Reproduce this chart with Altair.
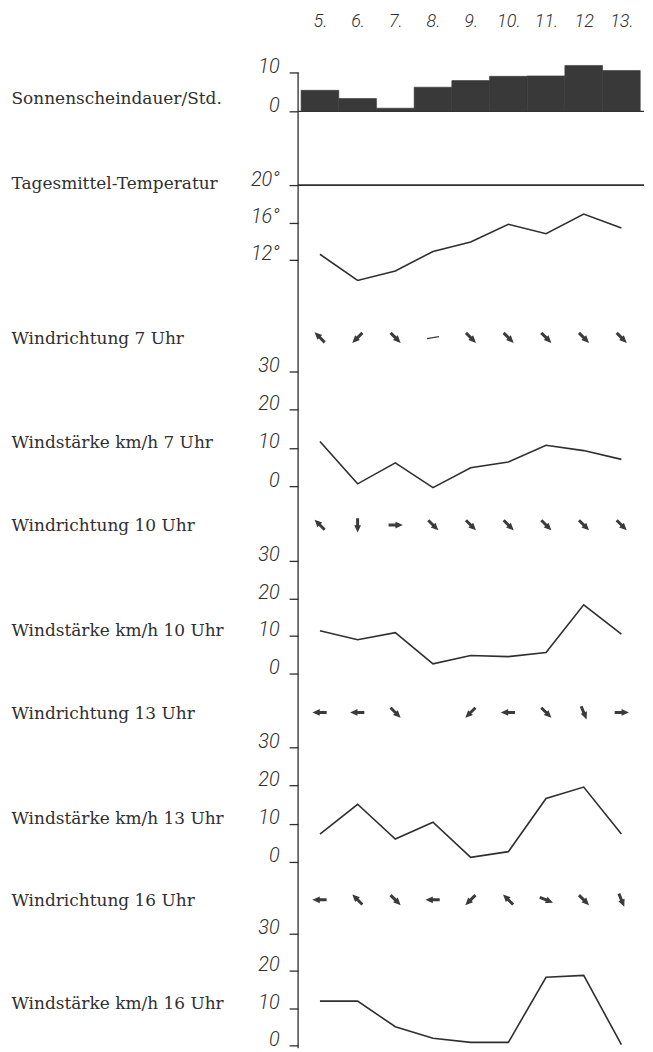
import json
import altair as alt
import pandas as pd

# ---------------- data ----------------
days = [5, 6, 7, 8, 9, 10, 11, 12, 13]
day_labels = ["5.", "6.", "7.", "8.", "9.", "10.", "11.", "12", "13."]

sunshine = [5.4, 3.3, 0.8, 6.2, 7.9, 9.0, 9.1, 11.8, 10.5]
temperature = [12.6, 9.8, 10.8, 12.9, 13.9, 15.8, 14.8, 16.9, 15.4]
temp_reference = [20]

wind_speed_7 = [11.7, 0.6, 6.1, -0.4, 4.8, 6.3, 10.7, 9.3, 7.0]
wind_speed_10 = [11.4, 9.0, 10.9, 2.6, 4.8, 4.5, 5.6, 18.3, 10.5]
wind_speed_13 = [7.3, 15.1, 6.0, 10.4, 1.2, 2.7, 16.6, 19.6, 7.3]
wind_speed_16 = [11.9, 11.9, 5.0, 1.9, 0.8, 0.8, 18.3, 18.8, 0.2]

wind_dir_7 = ["NW", "SW", "SE", "calm", "SE", "SE", "SE", "SE", "SE"]
wind_dir_10 = ["NW", "S", "E", "SE", "SE", "SE", "SE", "SE", "SE"]
wind_dir_13 = ["W", "W", "SE", None, "SW", "W", "SE", "SSE", "E"]
wind_dir_16 = ["W", "NW", "SE", "W", "SW", "NW", "ESE", "SE", "SSE"]

title_sun = "Sonnenscheindauer/Std."
title_temp = "Tagesmittel-Temperatur"
dir_rows = ["Windrichtung 7 Uhr", "Windrichtung 10 Uhr",
            "Windrichtung 13 Uhr", "Windrichtung 16 Uhr"]
speed_titles = ["Windstärke km/h 7 Uhr", "Windstärke km/h 10 Uhr",
                "Windstärke km/h 13 Uhr", "Windstärke km/h 16 Uhr"]

# compass direction the arrow points to -> rotation of an upward arrow (clockwise)
compass_angle = {"N": 0, "NE": 45, "E": 90, "ESE": 112.5, "SE": 135,
                 "SSE": 157.5, "S": 180, "SW": 225, "W": 270, "NW": 315,
                 "calm": 350}

# ---------------- tables ----------------
df = pd.DataFrame({
    "day": days, "sun": sunshine, "temp": temperature,
    "w7": wind_speed_7, "w10": wind_speed_10,
    "w13": wind_speed_13, "w16": wind_speed_16,
})

dir_records = []
for row, series in zip(dir_rows, [wind_dir_7, wind_dir_10, wind_dir_13, wind_dir_16]):
    for d, c in zip(days, series):
        if c is None:
            continue
        dir_records.append({
            "row": row, "day": d,
            "shape": "stroke" if c == "calm" else "arrow",
            "angle": compass_angle[c],
        })
dir_df = pd.DataFrame(dir_records)

# ---------------- layout / style ----------------
INK = "#2f2f2f"
SERIF = "DejaVu Serif"
NUMFONT = "Roboto"
PLOT_W, PLOT_H = 347, 979
X_DOMAIN = [4.42, 13.6]
SUN_RANGE = [39, 0]
TEMP_RANGE = [188, 113]
WIND_RANGES = [(415, 300), (603, 490), (792, 677), (976, 864)]
DIR_RANGE = [266, 830]
TITLE_X = -288
TITLE_SIZE = 17

xscale = alt.Scale(domain=X_DOMAIN, nice=False, zero=False)
x_axis = alt.Axis(
    orient="top", values=days, title=None,
    labelExpr=json.dumps(day_labels) + "[datum.value - 5]",
    labelFont=NUMFONT, labelFontStyle="italic", labelFontWeight=300,
    labelFontSize=18, labelColor=INK, labelPadding=46,
    labelBaseline="alphabetic", labelFlush=False, labelOverlap=False,
    ticks=False, tickSize=0, domain=False, grid=False,
)


def X(field):
    return alt.X(field, scale=xscale, axis=x_axis)


def num_axis(values, title, title_y, label_expr=None):
    kw = dict(
        orient="left", values=values, title=title,
        titleX=TITLE_X, titleY=title_y, titleAngle=0, titleAlign="left",
        titleBaseline="alphabetic", titleFont=SERIF, titleFontSize=TITLE_SIZE,
        titleFontWeight="normal", titleColor=INK, titleLimit=400,
        labelFont=NUMFONT, labelFontStyle="italic", labelFontWeight=300,
        labelFontSize=20, labelColor=INK, labelBaseline="alphabetic",
        labelAlign="right", labelPadding=10, labelOverlap=False,
        tickSize=9, tickColor=INK, tickWidth=1.3,
        domain=False, grid=False,
    )
    if label_expr:
        kw["labelExpr"] = label_expr
    return alt.Axis(**kw)


one_row = alt.Data(values=[{"k": 0}])

# vertical main axis line
axis_line = alt.Chart(one_row).mark_rule(color=INK, strokeWidth=1.3).encode(
    x=alt.value(0), y=alt.value(0), y2=alt.value(PLOT_H)
)

# sunshine bars
sun_scale = alt.Scale(domain=[0, 10], range=SUN_RANGE, nice=False, zero=False)
sun_bars = alt.Chart(df).transform_calculate(
    x0="datum.day - 0.5", x1="datum.day + 0.5"
).mark_rect(color="#393939", stroke="#393939", strokeWidth=0.6).encode(
    x=X("x0:Q"), x2="x1:Q",
    y=alt.Y("sun:Q", scale=sun_scale,
            axis=num_axis([0, 10], title_sun, 31)),
    y2=alt.datum(0),
)
sun_base = alt.Chart(one_row).mark_rule(color=INK, strokeWidth=1.2).encode(
    y=alt.YDatum(0, type="quantitative", scale=sun_scale, axis=None)
)

# temperature
temp_scale = alt.Scale(domain=[12, 20], range=TEMP_RANGE, nice=False, zero=False)
temp_line = alt.Chart(df).mark_line(color=INK, strokeWidth=1.6).encode(
    x=X("day:Q"),
    y=alt.Y("temp:Q", scale=temp_scale,
            axis=num_axis([12, 16, 20], title_temp, 116,
                          "datum.value + '°'")),
)
temp_rule = alt.Chart(pd.DataFrame({"ref": temp_reference})).mark_rule(
    color=INK, strokeWidth=1.8
).encode(
    y=alt.Y("ref:Q", scale=temp_scale, axis=None)
)

# wind direction arrows
dir_scale = alt.Scale(type="point", domain=dir_rows, range=DIR_RANGE, padding=0)
dir_axis = alt.Axis(
    orient="left", title=None, domain=False, ticks=False, tickSize=0,
    grid=False, labelFont=SERIF, labelFontSize=TITLE_SIZE, labelColor=INK,
    labelAlign="left", labelPadding=-TITLE_X, labelBaseline="alphabetic",
    labelOffset=6, labelLimit=400, labelOverlap=False,
)
arrows = alt.Chart(dir_df).mark_point(
    filled=True, color="#3a3a3a", stroke="#3a3a3a", strokeWidth=1.2,
    size=150, opacity=1,
).encode(
    x=X("day:Q"),
    y=alt.Y("row:N", scale=dir_scale, axis=dir_axis),
    shape=alt.Shape("shape:N", scale=None),
    angle=alt.Angle("angle:Q", scale=None),
)

# wind speed panels
speed_layers = []
for field, title, (r0, r30) in zip(["w7", "w10", "w13", "w16"],
                                   speed_titles, WIND_RANGES):
    sc = alt.Scale(domain=[0, 30], range=[r0, r30], nice=False, zero=False)
    speed_layers.append(
        alt.Chart(df).mark_line(color=INK, strokeWidth=1.6).encode(
            x=X("day:Q"),
            y=alt.Y(field + ":Q", scale=sc,
                    axis=num_axis([0, 10, 20, 30], title,
                                  r0 - (r0 - r30) / 3)),
        )
    )

chart = alt.layer(
    axis_line, sun_base, sun_bars, temp_rule, temp_line, arrows, *speed_layers
).resolve_scale(
    y="independent"
).properties(
    width=PLOT_W, height=PLOT_H,
    padding={"left": 3, "top": 3, "right": 0, "bottom": 0},
    background="white",
).configure_view(strokeWidth=0)

chart.save("out.html", embed_options={"renderer": "svg", "actions": False})
